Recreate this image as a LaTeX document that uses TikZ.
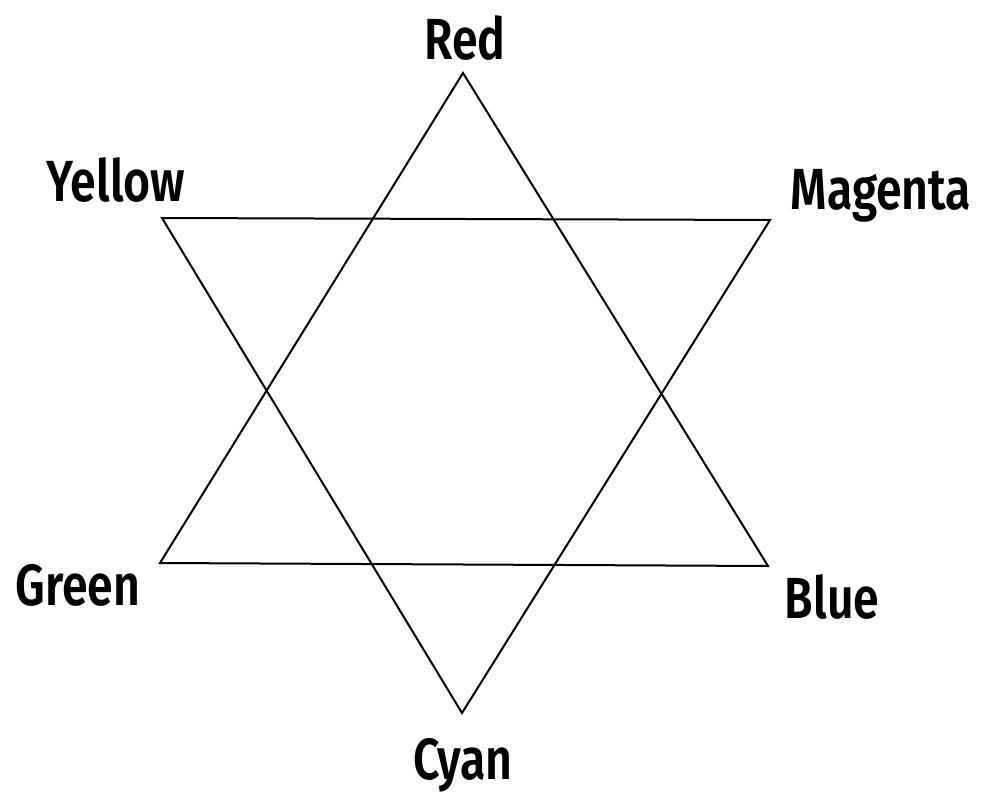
\documentclass[tikz,border=0pt]{standalone}
\usepackage{fontspec}
\newfontfamily\labelfont[FakeStretch=0.80]{Fira Sans SemiBold}
\begin{document}
\begin{tikzpicture}[x=1pt,y=-1pt,
  edge/.style={line width=2pt,line join=miter},
  lbl/.style={font=\labelfont\fontsize{58}{64}\selectfont,anchor=base,inner sep=0pt}]
\useasboundingbox (0,0) rectangle (981,794);
\coordinate (R) at (463,73);
\coordinate (M) at (770,220);
\coordinate (B) at (768,566);
\coordinate (C) at (462,713);
\coordinate (G) at (160,563);
\coordinate (Y) at (162,218);
\draw[edge] (R) -- (B) -- (G) -- cycle;
\draw[edge] (Y) -- (M) -- (C) -- cycle;
\node[lbl] (tR) at (465,60) {Red};
\node[lbl] (tY) at (116,202) {Yellow};
\node[lbl] (tM) at (881,210) {Magenta};
\node[lbl] (tG) at (78,605) {Green};
\node[lbl] (tB) at (832,618) {Blue};
\node[lbl] (tC) at (463,779) {Cyan};
\end{tikzpicture}
\end{document}
